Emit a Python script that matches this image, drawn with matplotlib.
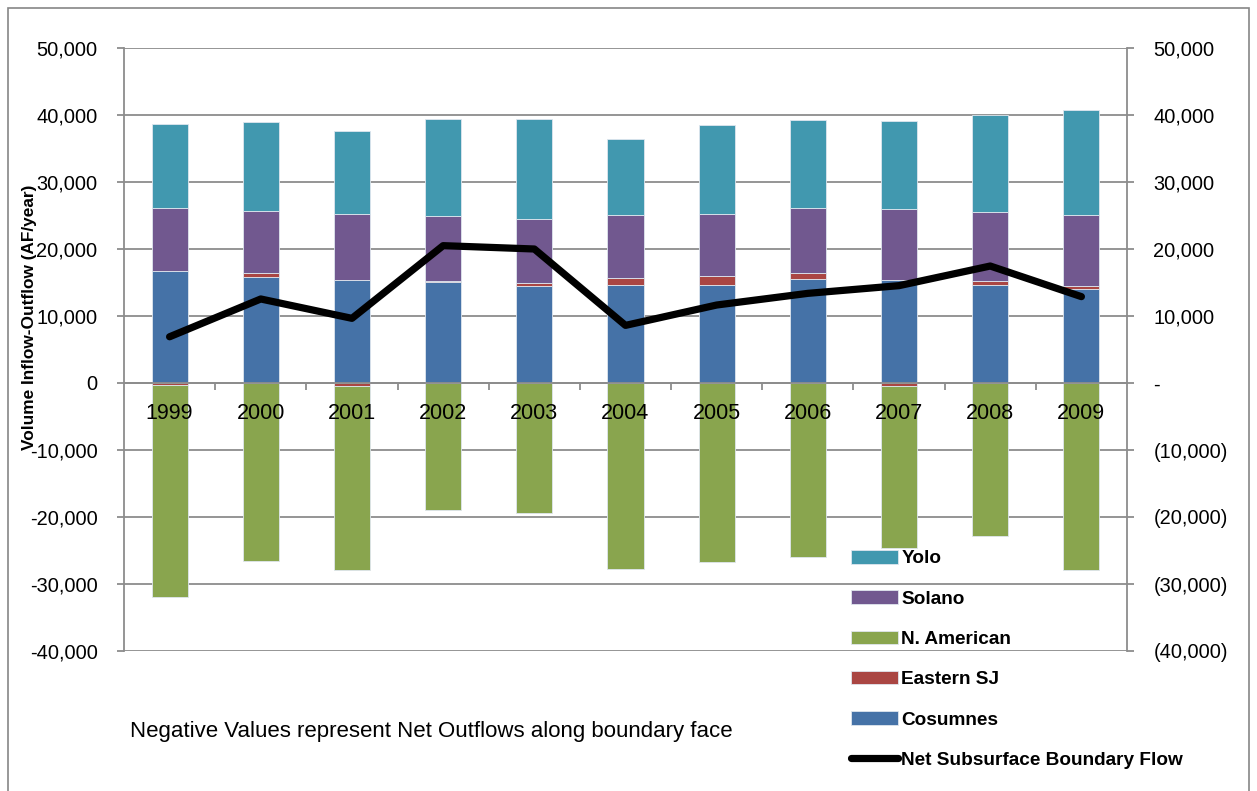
import numpy as np
import matplotlib.pyplot as plt
from matplotlib.patches import Rectangle
from matplotlib.lines import Line2D
from matplotlib.ticker import FuncFormatter

# annual net boundary flows by face (AF/year)
years = ['1999', '2000', '2001', '2002', '2003', '2004',
         '2005', '2006', '2007', '2008', '2009']
cosumnes = [16670, 15870, 15320, 15120, 14530, 14680, 14620, 15570, 15320, 14570, 13980]
eastern_sj = [-300, 500, -400, 150, 350, 990, 1350, 900, -400, 600, 450]
n_american = [-31600, -26520, -27500, -19000, -19400, -27810, -26770, -26020, -24170, -22830, -27870]
solano = [9400, 9350, 9950, 9700, 9660, 9350, 9300, 9600, 10600, 10400, 10590]
yolo = [12630, 13230, 12340, 14430, 14820, 11350, 13230, 13180, 13130, 14480, 15780]
net_flow = [6900, 12540, 9650, 20500, 20000, 8600, 11640, 13380, 14530, 17460, 12890]

series = [('Cosumnes', cosumnes, '#4572A7'),
          ('Eastern SJ', eastern_sj, '#AA4643'),
          ('N. American', n_american, '#89A54E'),
          ('Solano', solano, '#71588F'),
          ('Yolo', yolo, '#4198AF')]

grid_col = '#8c8c8c'
plt.rcParams['font.family'] = ['Liberation Sans', 'DejaVu Sans']

fig = plt.figure(figsize=(12.57, 7.91), dpi=100)
ax = fig.add_axes([124 / 1257, 1 - 651 / 791, (1127 - 124) / 1257, (651 - 48) / 791])

x = np.arange(len(years))
pos = np.zeros(len(years))
neg = np.zeros(len(years))
bars = {}
for name, vals, col in series:
    v = np.array(vals, dtype=float)
    base = np.where(v >= 0, pos, neg)
    bars[name] = ax.bar(x, v, 0.395, bottom=base, color=col,
                        edgecolor='#dfe6ee', linewidth=0.6, zorder=2)
    pos += np.clip(v, 0, None)
    neg += np.clip(v, None, 0)

line, = ax.plot(x, net_flow, color='black', lw=5.2,
                solid_capstyle='round', solid_joinstyle='round', zorder=3)

ax.set_xlim(-0.5, len(years) - 0.5)
ax.set_ylim(-40000, 50000)
yt = np.arange(-40000, 50001, 10000)
ax.set_yticks(yt)
ax.yaxis.set_major_formatter(FuncFormatter(lambda v, p: f'{v:,.0f}'))
ax.set_axisbelow(True)
ax.yaxis.grid(True, color=grid_col, lw=1.3)
ax.tick_params(axis='y', length=5, width=1.3, color=grid_col, pad=14,
               labelsize=14.4)

# category axis sits on the zero line, labels overlap the bars
ax.spines['bottom'].set_position(('data', 0))
ax.spines['bottom'].set_color(grid_col)
ax.spines['bottom'].set_linewidth(1.3)
ax.spines['top'].set_visible(False)
for s in ('left', 'right'):
    ax.spines[s].set_color(grid_col)
    ax.spines[s].set_linewidth(1.3)
ax.set_xticks(x, years)
ax.set_xticks(np.arange(0.5, len(years) - 1, 1), minor=True)
ax.tick_params(axis='x', which='major', length=0, pad=14.4, labelsize=15.5)
ax.tick_params(axis='x', which='minor', length=5, width=1.3,
               color=grid_col, direction='out')
ax.xaxis.set_zorder(4)

# right-hand axis in accounting format
ax2 = ax.twinx()
ax2.set_ylim(ax.get_ylim())
ax2.set_yticks(yt)


def acct(v, p):
    if v == 0:
        return '-'
    if v < 0:
        return f'({-v:,.0f})'
    return f'{v:,.0f}'


ax2.yaxis.set_major_formatter(FuncFormatter(acct))
ax2.tick_params(axis='y', length=5, width=1.3, color=grid_col, pad=14,
                labelsize=14.4)
for s in ax2.spines.values():
    s.set_visible(False)

fig.text(30 / 1257, 1 - 317 / 791, 'Volume Inflow-Outflow (AF/year)',
         rotation=90, ha='center', va='center', fontsize=12.4,
         fontweight='bold')

fig.text(130 / 1257, 1 - 732 / 791,
         'Negative Values represent Net Outflows along boundary face',
         ha='left', va='center', fontsize=16)

handles = [bars['Yolo'], bars['Solano'], bars['N. American'],
           bars['Eastern SJ'], bars['Cosumnes'],
           Line2D([], [], color='black', lw=5.2, solid_capstyle='round')]
labels = ['Yolo', 'Solano', 'N. American', 'Eastern SJ', 'Cosumnes',
          'Net Subsurface Boundary Flow']
fig.legend(handles, labels, loc='upper left',
           bbox_to_anchor=(851 / 1257, 1 - 550 / 791),
           frameon=False, borderpad=0, borderaxespad=0,
           handlelength=2.45, handleheight=0.72, handletextpad=0.2,
           labelspacing=1.2,
           prop={'weight': 'bold', 'size': 13.7})

# chart border
fig.add_artist(Rectangle((8 / 1257, -0.05), 1241 / 1257, 1.05 - 8 / 791,
                         transform=fig.transFigure, fill=False,
                         edgecolor='#868686', lw=1.2))

fig.savefig('out.png', dpi=100)
